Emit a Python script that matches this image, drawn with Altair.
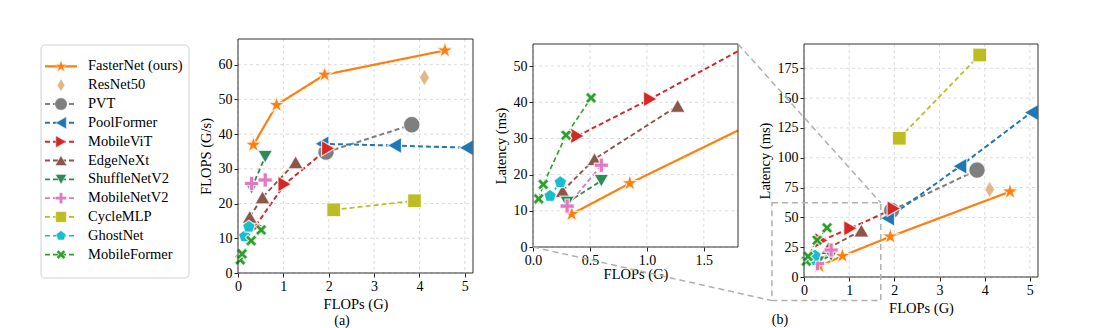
import altair as alt
import pandas as pd

# ---------------- data ----------------
models = ["FasterNet (ours)", "ResNet50", "PVT", "PoolFormer", "MobileViT", "EdgeNeXt",
          "ShuffleNetV2", "MobileNetV2", "CycleMLP", "GhostNet", "MobileFormer"]

fasternet_flops = [0.34, 0.85, 1.91, 4.56]
fasternet_tput = [36.9, 48.4, 57.1, 64.1]
fasternet_lat = [9.1, 17.6, 33.9, 71.6]

resnet50_flops = [4.11]
resnet50_tput = [56.3]
resnet50_lat = [73.4]

pvt_flops = [1.94, 3.83]
pvt_tput = [34.8, 42.7]
pvt_lat = [55.8, 89.7]

poolformer_flops = [1.85, 3.45, 5.03]
poolformer_tput = [37.2, 36.7, 36.1]
poolformer_lat = [49.2, 92.8, 138.0]

mobilevit_flops = [0.39, 1.03, 1.99]
mobilevit_tput = [13.6, 25.6, 35.9]
mobilevit_lat = [30.7, 40.9, 57.4]

edgenext_flops = [0.26, 0.54, 1.27]
edgenext_tput = [16.2, 21.8, 31.9]
edgenext_lat = [15.5, 24.3, 39.0]

shufflenetv2_flops = [0.30, 0.60]
shufflenetv2_tput = [24.5, 33.5]
shufflenetv2_lat = [12.3, 18.3]

mobilenetv2_flops = [0.30, 0.60]
mobilenetv2_tput = [25.8, 26.8]
mobilenetv2_lat = [11.3, 22.6]

cyclemlp_flops = [2.11, 3.89]
cyclemlp_tput = [18.2, 20.8]
cyclemlp_lat = [116.4, 186.2]

ghostnet_flops = [0.15, 0.24]
ghostnet_tput = [10.6, 13.3]
ghostnet_lat = [14.1, 17.9]

mobileformer_flops = [0.05, 0.09, 0.29, 0.51]
mobileformer_tput = [3.8, 5.5, 9.3, 12.4]
mobileformer_lat = [13.3, 17.3, 30.9, 41.2]

series = [
    (fasternet_flops, fasternet_tput, fasternet_lat),
    (resnet50_flops, resnet50_tput, resnet50_lat),
    (pvt_flops, pvt_tput, pvt_lat),
    (poolformer_flops, poolformer_tput, poolformer_lat),
    (mobilevit_flops, mobilevit_tput, mobilevit_lat),
    (edgenext_flops, edgenext_tput, edgenext_lat),
    (shufflenetv2_flops, shufflenetv2_tput, shufflenetv2_lat),
    (mobilenetv2_flops, mobilenetv2_tput, mobilenetv2_lat),
    (cyclemlp_flops, cyclemlp_tput, cyclemlp_lat),
    (ghostnet_flops, ghostnet_tput, ghostnet_lat),
    (mobileformer_flops, mobileformer_tput, mobileformer_lat),
]

# axis ticks
a_xticks = [0, 1, 2, 3, 4, 5]
a_yticks = [0, 10, 20, 30, 40, 50, 60]
in_xticks = [0.0, 0.5, 1.0, 1.5]
in_yticks = [0, 10, 20, 30, 40, 50]
b_xticks = [0, 1, 2, 3, 4, 5]
b_yticks = [0, 25, 50, 75, 100, 125, 150, 175]

# zoom-indicator box drawn on the main (b) panel, in its data units
zoom_box_x = [-0.71, 1.70]
zoom_box_y = [-19.8, 62.2]

# ---------------- styles ----------------
colors = ["#ff7f0e", "#deb887", "#7f7f7f", "#1f77b4", "#d62728", "#8c564b",
          "#2e8b57", "#e377c2", "#bcbd22", "#17becf", "#2ca02c"]
STAR = ("M0,-1L0.2245,-0.309L0.951,-0.309L0.363,0.118L0.588,0.809L0,0.382"
        "L-0.588,0.809L-0.363,0.118L-0.951,-0.309L-0.2245,-0.309Z")
THIN_DIAMOND = "M0,-1L0.6,0L0,1L-0.6,0Z"
PLUS = ("M-1,-0.3L-0.3,-0.3L-0.3,-1L0.3,-1L0.3,-0.3L1,-0.3L1,0.3L0.3,0.3"
        "L0.3,1L-0.3,1L-0.3,0.3L-1,0.3Z")
XSHAPE = ("M-0.495,-0.919L0,-0.424L0.495,-0.919L0.919,-0.495L0.424,0L0.919,0.495"
          "L0.495,0.919L0,0.424L-0.495,0.919L-0.919,0.495L-0.424,0L-0.919,-0.495Z")
PENT = "M0,-1L0.951,-0.309L0.588,0.809L-0.588,0.809L-0.951,-0.309Z"
shapes = [STAR, THIN_DIAMOND, "circle", "triangle-left", "triangle-right", "triangle-up",
          "triangle-down", PLUS, "square", PENT, XSHAPE]
sizes = [300, 160, 115, 115, 115, 115, 115, 130, 105, 95, 110]
leg_sizes = [170, 100, 65, 65, 65, 65, 65, 80, 60, 60, 70]
dashes = [[1, 0]] + [[5, 3]] * 10
widths = [2.2] + [1.6] * 10

FONT = "Liberation Serif"
FRAME = "#333333"
GRID = "#d3d3d3"
ZOOMC = "#b0b0b0"

rows = []
for i, (m, (fx, tp, lt)) in enumerate(zip(models, series)):
    for j in range(len(fx)):
        rows.append({"model": m, "idx": i, "flops": fx[j], "tput": tp[j], "lat": lt[j]})
df = pd.DataFrame(rows)

color_enc = alt.Color("model:N", scale=alt.Scale(domain=models, range=colors), legend=None)
shape_enc = alt.Shape("model:N", scale=alt.Scale(domain=models, range=shapes), legend=None)
dash_enc = alt.StrokeDash("model:N", scale=alt.Scale(domain=models, range=dashes), legend=None)
width_enc = alt.StrokeWidth("model:N", scale=alt.Scale(domain=models, range=widths), legend=None)

# layout (pixels); every panel's view starts at the same top line (TOP px from the page top)
TOP = 35
LEG_W, LEG_TOP, LEG_BOT = 148, 41, 274
A_W, A_TOP, A_BOT = 235, 35, 269
IN_W, IN_TOP, IN_BOT = 205, 40, 243
B_W, B_TOP, B_BOT = 234, 40, 273
GAP_LEG_A, GAP_A_IN, GAP_IN_B = 49, 60, 66

one = pd.DataFrame({"k": [0]})


def panel(ycol, xdom, ydom, xticks, yticks, w, top, bot, xfmt, ytitle, inset=False, xtitle_pad=4):
    off = top - TOP           # plot-area offset inside the view
    vh = bot - TOP            # view height
    xscale = alt.Scale(domain=xdom, nice=False, zero=False)
    yscale = alt.Scale(domain=ydom, nice=False, zero=False, range=[vh, off])
    xaxis = alt.Axis(values=xticks, format=xfmt, titlePadding=xtitle_pad, grid=False, domain=False)
    yaxis = alt.Axis(values=yticks, format="d", grid=False, domain=False)

    def X(field):
        return alt.X(field, title="FLOPs (G)", scale=xscale, axis=xaxis)

    def Y(field):
        return alt.Y(field, title=ytitle, scale=yscale, axis=yaxis)

    gx = alt.Chart(pd.DataFrame({"gx": xticks})).mark_rule(
        color=GRID, strokeWidth=0.8, strokeDash=[3, 3]).encode(
        x=X("gx:Q"), y=alt.value(off), y2=alt.value(vh))
    gy = alt.Chart(pd.DataFrame({"gy": yticks})).mark_rule(
        color=GRID, strokeWidth=0.8, strokeDash=[3, 3]).encode(
        y=Y("gy:Q"), x=alt.value(0), x2=alt.value(w))

    base = alt.Chart(df)
    lines = base.mark_line(clip=inset).encode(
        x=X("flops:Q"), y=Y(f"{ycol}:Q"), color=color_enc, strokeDash=dash_enc,
        strokeWidth=width_enc, detail="model:N", order="flops:Q")
    pts_base = base
    if inset:
        pts_base = base.transform_filter(
            (alt.datum.flops <= xdom[1]) & (alt.datum[ycol] <= ydom[1]))
    pts = pts_base.mark_point(filled=True, opacity=1, stroke="white",
                              strokeWidth=1.2, strokeOpacity=0.75).encode(
        x=X("flops:Q"), y=Y(f"{ycol}:Q"), color=color_enc, shape=shape_enc,
        size=alt.Size("model:N", scale=alt.Scale(domain=models, range=sizes), legend=None),
        order="idx:Q")
    frame = alt.Chart(one).mark_rect(fillOpacity=0, stroke=FRAME, strokeWidth=1).encode(
        x=alt.value(0), x2=alt.value(w), y=alt.value(off), y2=alt.value(vh))
    return X, Y, [gx, gy, lines, pts, frame], vh


def spacer(w):
    return alt.Chart(one).mark_point(opacity=0).encode(
        x=alt.value(0), y=alt.value(0)).properties(width=w, height=1)


# ---------------- legend panel ----------------
leg_off = LEG_TOP - TOP
leg_vh = LEG_BOT - TOP
leg_df = pd.DataFrame({"model": models, "idx": list(range(len(models)))})
leg_y = alt.Y("model:N", scale=alt.Scale(type="point", domain=models,
                                         range=[leg_off + 12, leg_off + 219]), axis=None)
leg_box = alt.Chart(one).mark_rect(fillOpacity=0, stroke="#d0d0d0", strokeWidth=1,
                                   cornerRadius=4).encode(
    x=alt.value(0), x2=alt.value(LEG_W), y=alt.value(leg_off), y2=alt.value(leg_vh))
leg_rule = alt.Chart(leg_df).transform_filter(alt.datum.model != "ResNet50").mark_rule().encode(
    x=alt.value(4), x2=alt.value(36), y=leg_y, color=color_enc,
    strokeDash=dash_enc, strokeWidth=width_enc)
leg_pts = alt.Chart(leg_df).mark_point(filled=True, opacity=1, stroke="white",
                                       strokeWidth=0.8, strokeOpacity=0.6).encode(
    x=alt.value(20), y=leg_y, color=color_enc, shape=shape_enc,
    size=alt.Size("model:N", scale=alt.Scale(domain=models, range=leg_sizes), legend=None))
leg_txt = alt.Chart(leg_df).mark_text(align="left", baseline="middle", font=FONT,
                                      fontSize=14.5, color="black").encode(
    x=alt.value(47), y=leg_y, text="model:N")
legend_panel = alt.layer(leg_box, leg_rule, leg_pts, leg_txt).properties(
    width=LEG_W, height=leg_vh)

# ---------------- panel (a) ----------------
Xa, Ya, layers_a, vh_a = panel("tput", [0, 5.18], [0, 67.4], a_xticks, a_yticks,
                               A_W, A_TOP, A_BOT, "d", "FLOPS (G/s)")
lab_a = alt.Chart(one).mark_text(font=FONT, fontSize=14, color="black", baseline="middle").encode(
    x=alt.value(104), y=alt.value(317 - TOP), text=alt.value("(a)"))
panel_a = alt.layer(*layers_a, lab_a).properties(width=A_W, height=vh_a)

# ---------------- panel (b) inset ----------------
Xi, Yi, layers_i, vh_i = panel("lat", [0, 1.8], [0, 56.1], in_xticks, in_yticks,
                               IN_W, IN_TOP, IN_BOT, ".1f", "Latency (ms)",
                               inset=True, xtitle_pad=0)
panel_in = alt.layer(*layers_i).properties(width=IN_W, height=vh_i)

# ---------------- panel (b) main ----------------
XD_B, YD_B = [0, 5.18], [0, 195.4]
Xb, Yb, layers_b, vh_b = panel("lat", XD_B, YD_B, b_xticks, b_yticks,
                               B_W, B_TOP, B_BOT, "d", "Latency (ms)")

box_df = pd.DataFrame({"x0": [zoom_box_x[0]], "x1": [zoom_box_x[1]],
                       "y0": [zoom_box_y[0]], "y1": [zoom_box_y[1]]})
zoom_rect = alt.Chart(box_df).mark_rect(fillOpacity=0, stroke=ZOOMC, strokeWidth=1.5,
                                        strokeDash=[6, 4], clip=False).encode(
    x=Xb("x0:Q"), x2="x1:Q", y=Yb("y0:Q"), y2="y1:Q")

b_off = B_TOP - TOP
b_h = B_BOT - B_TOP


def px_x(v):
    return (v - XD_B[0]) / (XD_B[1] - XD_B[0]) * B_W


def px_y(v):
    return b_off + b_h - (v - YD_B[0]) / (YD_B[1] - YD_B[0]) * b_h


conn_top = alt.Chart(one).mark_rule(stroke=ZOOMC, strokeWidth=1.5, strokeDash=[6, 4]).encode(
    x=alt.value(-GAP_IN_B), y=alt.value(IN_TOP - TOP),
    x2=alt.value(px_x(zoom_box_x[1])), y2=alt.value(px_y(zoom_box_y[1])))
conn_bot = alt.Chart(one).mark_rule(stroke=ZOOMC, strokeWidth=1.5, strokeDash=[6, 4]).encode(
    x=alt.value(-GAP_IN_B - IN_W), y=alt.value(IN_BOT - TOP),
    x2=alt.value(px_x(zoom_box_x[0])), y2=alt.value(px_y(zoom_box_y[0])))
lab_b = alt.Chart(one).mark_text(font=FONT, fontSize=14, color="black", baseline="middle").encode(
    x=alt.value(-24), y=alt.value(316 - TOP), text=alt.value("(b)"))
panel_b = alt.layer(*layers_b, zoom_rect, conn_top, conn_bot, lab_b).properties(
    width=B_W, height=vh_b)

# ---------------- assemble ----------------
chart = alt.hconcat(
    legend_panel, spacer(GAP_LEG_A), panel_a, spacer(GAP_A_IN), panel_in,
    spacer(GAP_IN_B), panel_b,
    spacing=0, bounds="flush"
).resolve_scale(size="independent").properties(
    padding={"left": 40, "top": TOP, "right": 0, "bottom": 2},
    background="white",
).configure(font=FONT).configure_view(
    stroke="transparent"
).configure_axis(
    labelFont=FONT, titleFont=FONT, labelFontSize=14, titleFontSize=14.5,
    titleFontWeight="normal", labelColor="black", titleColor="black",
    tickColor="#222222", tickSize=4, labelPadding=2,
    labelFlush=False, labelOverlap=False, titlePadding=5,
)

chart.save("out.html", embed_options={"renderer": "svg", "actions": False})
